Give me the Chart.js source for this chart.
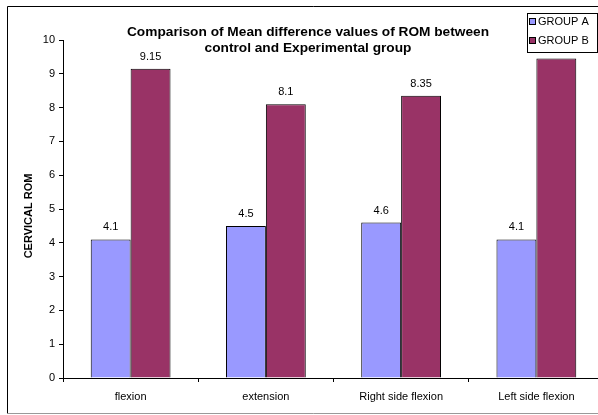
<!DOCTYPE html>
<html>
<head>
<meta charset="utf-8">
<script src="https://cdn.jsdelivr.net/npm/chart.js@4"></script>
<style>
    html, body { margin: 0; padding: 0; background: #fff; overflow: hidden; }
    #wrap { width: 598px; height: 415px; overflow: hidden; }
</style>
</head>
<body>
<div id="wrap"><canvas id="chart" width="620" height="415"></canvas></div>
<script>
const categories = ['flexion', 'extension', 'Right side flexion', 'Left side flexion'];
const groupA = [4.1, 4.5, 4.6, 4.1];
const groupB = [9.15, 8.1, 8.35, 9.45];
const labelsA = ['4.1', '4.5', '4.6', '4.1'];
const labelsB = ['9.15', '8.1', '8.35', ''];
const titleLines = ['Comparison of Mean difference values of ROM between', 'control and Experimental group'];
const yTitle = 'CERVICAL ROM';

const FONT = '"Liberation Sans", Arial, sans-serif';

// frame, title, legend, axis title and value labels
const decorPlugin = {
    id: 'decor',
    beforeDraw(chart) {
        const ctx = chart.ctx;
        ctx.save();
        ctx.fillStyle = '#fff';
        ctx.fillRect(0, 0, chart.width, chart.height);
        ctx.lineWidth = 1;
        ctx.strokeStyle = '#000';
        ctx.beginPath();
        ctx.moveTo(7.5, 413.5);
        ctx.lineTo(7.5, 6.5);
        ctx.lineTo(620, 6.5);
        ctx.stroke();
        ctx.strokeStyle = '#999';
        ctx.beginPath();
        ctx.moveTo(7.5, 413.5);
        ctx.lineTo(620, 413.5);
        ctx.stroke();
        ctx.restore();
    },
    afterDraw(chart) {
        const ctx = chart.ctx;
        ctx.save();

        // value labels
        ctx.font = '11px ' + FONT;
        ctx.fillStyle = '#000';
        ctx.textAlign = 'center';
        ctx.textBaseline = 'middle';
        [labelsA, labelsB].forEach((lbls, di) => {
            chart.getDatasetMeta(di).data.forEach((bar, i) => {
                if (lbls[i]) ctx.fillText(lbls[i], bar.x, bar.y - 12);
            });
        });

        // y axis title
        ctx.save();
        ctx.font = 'bold 11px ' + FONT;
        ctx.translate(29, 216);
        ctx.rotate(-Math.PI / 2);
        ctx.fillText(yTitle, 0, 0);
        ctx.restore();

        // title
        ctx.font = 'bold 13.7px ' + FONT;
        ctx.fillText(titleLines[0], 308, 32);
        ctx.fillText(titleLines[1], 308, 48);

        // legend
        ctx.fillStyle = '#fff';
        ctx.fillRect(527.5, 13.5, 70, 39);
        ctx.strokeStyle = '#000';
        ctx.lineWidth = 1;
        ctx.strokeRect(527.5, 13.5, 70, 39);
        ctx.font = '11px ' + FONT;
        ctx.textAlign = 'left';
        chart.data.datasets.forEach((ds, i) => {
            const y = 22 + i * 19;
            ctx.fillStyle = ds.backgroundColor;
            ctx.fillRect(529.5, y - 3.5, 6, 6);
            ctx.strokeRect(529.5, y - 3.5, 6, 6);
            ctx.fillStyle = '#000';
            ctx.fillText(ds.label, 538, y);
        });
        ctx.restore();
    }
};

new Chart(document.getElementById('chart'), {
    type: 'bar',
    data: {
        labels: categories,
        datasets: [
            { label: 'GROUP A', data: groupA, backgroundColor: '#9999FF', borderColor: '#000', borderWidth: 1 },
            { label: 'GROUP B', data: groupB, backgroundColor: '#993366', borderColor: '#000', borderWidth: 1 }
        ]
    },
    options: {
        responsive: false,
        animation: false,
        layout: { padding: { top: 40, right: 16, left: 0, bottom: 0 } },
        categoryPercentage: 0.59,
        barPercentage: 1,
        plugins: {
            legend: { display: false },
            title: { display: false },
            tooltip: { enabled: false }
        },
        scales: {
            x: {
                grid: { drawOnChartArea: false, tickLength: 4, color: '#000', offset: true },
                border: { color: '#000' },
                ticks: { color: '#000', font: { family: FONT, size: 11 }, padding: 8, maxRotation: 0 },
                afterFit(scale) { scale.height = 37; }
            },
            y: {
                min: 0,
                max: 10,
                ticks: { stepSize: 1, color: '#000', font: { family: FONT, size: 11 }, padding: 4 },
                grid: { drawOnChartArea: false, tickLength: 4, color: '#000' },
                border: { color: '#000' },
                afterFit(scale) { scale.width = 63; }
            }
        }
    },
    plugins: [decorPlugin]
});
</script>
</body>
</html>
